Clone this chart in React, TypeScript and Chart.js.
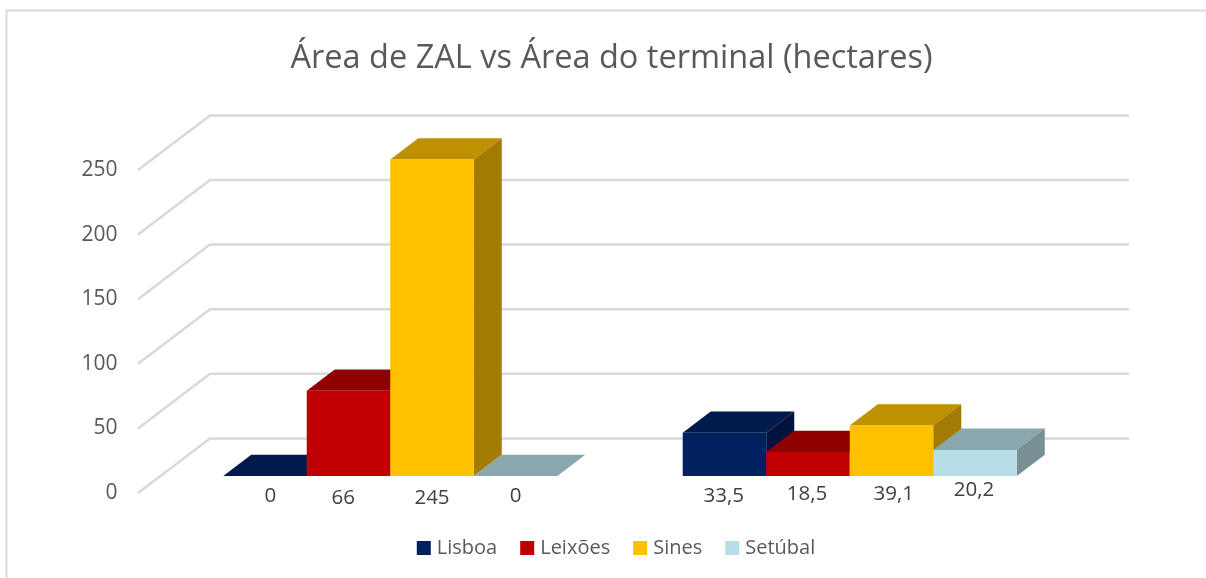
import React, { useEffect, useRef } from "react";
import { Chart, registerables } from "chart.js";

Chart.register(...registerables);

const categories = ["Área de ZAL", "Área do terminal"];
const seriesNames = ["Lisboa", "Leixões", "Sines", "Setúbal"];
const lisboa = [0, 33.5];
const leixoes = [66, 18.5];
const sines = [245, 39.1];
const setubal = [0, 20.2];
const yTicks = [0, 50, 100, 150, 200, 250];
const frontColors = ["#002060", "#C00000", "#FFC000", "#B7DEE8"];
const topColors = ["#001A4D", "#8F0000", "#BF9000", "#8AA7AE"];
const sideColors = ["#00133F", "#7A0000", "#A37B00", "#778F95"];
// hand-placed label nudges from the reference: [dx, dy] from each bar's centre / baseline
const labelNudges = [
  [[5.4, 20.4], [-0.7, 20]],
  [[-5.3, 21.7], [-1, 17.7]],
  [[0, 22.4], [2.3, 17.7]],
  [[0, 19.7], [-1, 14]],
];

const FONT = "'Open Sans'";
const BASE_DX = 22.5;
const BASE_DY = 17;
const DEPTH_X = 28;
const DEPTH_Y = 21.3;
const WALL_DX = 72;
const WALL_DY = 54.6;

function poly(ctx: CanvasRenderingContext2D, pts: number[][], fill: string) {
  ctx.beginPath();
  pts.forEach((p, i) => (i ? ctx.lineTo(p[0], p[1]) : ctx.moveTo(p[0], p[1])));
  ctx.closePath();
  ctx.fillStyle = fill;
  ctx.fill();
}

const scene3d = {
  id: "scene3d",
  afterLayout(chart: any) {
    chart.titleBlock.left = 17;
    chart.titleBlock.right = 1206;
    chart.legend.left = 30;
    chart.legend.right = 1206;
    chart.legend.top = 511;
    chart.legend.bottom = 578;
  },
  beforeDraw(chart: any) {
    const { ctx, width, height } = chart;
    ctx.save();
    ctx.fillStyle = "#FFFFFF";
    ctx.fillRect(0, 0, width, height);
    ctx.strokeStyle = "#D9D9D9";
    ctx.lineWidth = 2;
    ctx.beginPath();
    ctx.moveTo(6.5, height);
    ctx.lineTo(6.5, 10.5);
    ctx.lineTo(width, 10.5);
    ctx.stroke();
    ctx.restore();
  },
  beforeDatasetsDraw(chart: any) {
    const { ctx, chartArea, scales } = chart;
    ctx.save();
    ctx.strokeStyle = "#D9D9D9";
    ctx.lineWidth = 2.5;
    ctx.lineJoin = "miter";
    for (const v of yTicks) {
      const y = scales.y.getPixelForValue(v);
      ctx.beginPath();
      ctx.moveTo(chartArea.left, y);
      ctx.lineTo(chartArea.left + WALL_DX, y - WALL_DY);
      ctx.lineTo(chartArea.right + WALL_DX, y - WALL_DY);
      ctx.stroke();
    }
    ctx.restore();
  },
  beforeDatasetDraw() {
    return false;
  },
  afterDatasetsDraw(chart: any) {
    const { ctx } = chart;
    ctx.save();
    categories.forEach((_, c) => {
      seriesNames.forEach((__, d) => {
        const bar = chart.getDatasetMeta(d).data[c];
        const l = bar.x - bar.width / 2 + BASE_DX;
        const r = bar.x + bar.width / 2 + BASE_DX;
        const t = bar.y - BASE_DY;
        const b = bar.base - BASE_DY;
        poly(ctx, [[l, t], [r, t], [r + DEPTH_X, t - DEPTH_Y], [l + DEPTH_X, t - DEPTH_Y]], topColors[d]);
        if (b > t) {
          poly(ctx, [[r, t], [r + DEPTH_X, t - DEPTH_Y], [r + DEPTH_X, b - DEPTH_Y], [r, b]], sideColors[d]);
          poly(ctx, [[l, t], [r, t], [r, b], [l, b]], frontColors[d]);
        }
      });
    });
    ctx.fillStyle = "#404040";
    ctx.font = `20.5px ${FONT}`;
    ctx.textAlign = "center";
    ctx.textBaseline = "middle";
    categories.forEach((_, c) => {
      seriesNames.forEach((__, d) => {
        const ds = chart.data.datasets[d];
        const bar = chart.getDatasetMeta(d).data[c];
        const n = labelNudges[d][c];
        const text = String(ds.data[c]).replace(".", ",");
        ctx.fillText(text, bar.x + BASE_DX + n[0], bar.base - BASE_DY + n[1]);
      });
    });
    ctx.restore();
  },
};

export default function App() {
  const ref = useRef<HTMLCanvasElement>(null);
  useEffect(() => {
    const chart = new Chart(ref.current!, {
      type: "bar",
      plugins: [scene3d],
      data: {
        labels: categories,
        datasets: [lisboa, leixoes, sines, setubal].map((data, i) => ({
          label: seriesNames[i],
          data,
          backgroundColor: frontColors[i],
          borderColor: frontColors[i],
          borderWidth: 8,
          categoryPercentage: 0.727,
          barPercentage: 1,
        })),
      },
      options: {
        responsive: false,
        animation: false,
        layout: { padding: { left: 0, right: 149, top: 0, bottom: 28 } },
        scales: {
          x: {
            grid: { display: false, drawTicks: false },
            border: { display: false },
            ticks: { display: false },
          },
          y: {
            min: 0,
            max: 250,
            grid: { display: false, drawTicks: false },
            border: { display: false },
            afterFit(scale: any) {
              scale.width = 138;
            },
            ticks: {
              stepSize: 50,
              padding: 20.5,
              font: { family: FONT, size: 21 },
              color: "#595959",
            },
          },
        },
        plugins: {
          tooltip: { enabled: false },
          title: {
            display: true,
            text: "Área de ZAL vs Área do terminal (hectares)",
            color: "#595959",
            font: { family: FONT, size: 32.5, weight: "normal" },
            padding: { top: 39, bottom: 92 },
          },
          legend: {
            position: "bottom",
            labels: {
              boxWidth: 6,
              boxHeight: 6,
              color: "#595959",
              font: { family: FONT, size: 20 },
              padding: 27,
            },
          },
        },
      },
    } as any);
    return () => chart.destroy();
  }, []);
  return (
    <canvas
      ref={ref}
      width={1206}
      height={578}
      style={{ position: "fixed", left: 0, top: 0, width: 1206, height: 578, display: "block" }}
    />
  );
}
